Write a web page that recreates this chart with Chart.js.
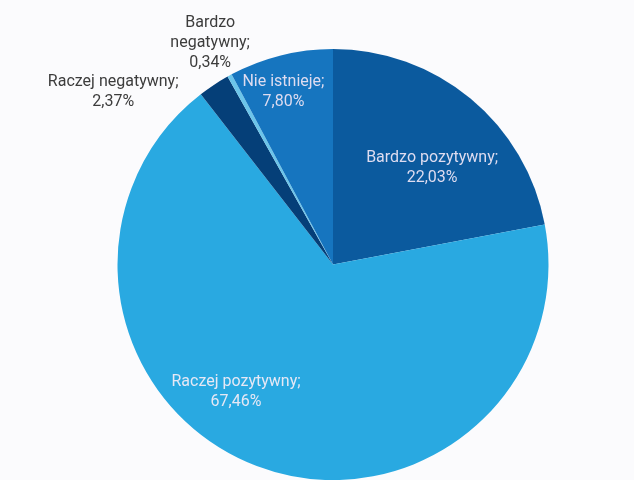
<!DOCTYPE html>
<html>
<head>
<meta charset="utf-8">
<script src="https://cdn.jsdelivr.net/npm/chart.js@4"></script>
<style>
  html, body { margin: 0; padding: 0; background: #fbfbfd; }
  #wrap { width: 634px; height: 480px; }
</style>
</head>
<body>
<div id="wrap"><canvas id="pie"></canvas></div>
<script>
// Ocena - udzial odpowiedzi (%)
const categories = ['Bardzo pozytywny', 'Raczej pozytywny', 'Raczej negatywny', 'Bardzo negatywny', 'Nie istnieje'];
const shares = [22.03, 67.46, 2.37, 0.34, 7.80];
const sliceColors = ['#0b5a9e', '#29a9e1', '#053f78', '#6cc5ea', '#1675bf'];

// where each label sits, as a fraction of the radius from the centre
const labelSpots = [
    { fx: 0.46, fy: -0.45, color: '#dedcf0', wrap: false },
    { fx: -0.45, fy: 0.59, color: '#e6e8f5', wrap: false },
    { fx: -1.02, fy: -0.80, color: '#3c3c3c', wrap: false },
    { fx: -0.57, fy: -1.03, color: '#3c3c3c', wrap: true },
    { fx: -0.23, fy: -0.80, color: '#dedcf0', wrap: false }
];

function pct(v) {
    return v.toFixed(2).replace('.', ',') + '%';
}

const sliceLabels = {
    id: 'sliceLabels',
    afterDatasetsDraw(chart) {
        const ctx = chart.ctx;
        const meta = chart.getDatasetMeta(0);
        ctx.save();
        ctx.font = '16px Roboto';
        ctx.textAlign = 'center';
        ctx.textBaseline = 'middle';
        meta.data.forEach(function (arc, i) {
            const spot = labelSpots[i];
            const r = arc.outerRadius;
            const x = arc.x + spot.fx * r;
            const y = arc.y + spot.fy * r;
            let lines;
            if (spot.wrap) {
                const words = categories[i].split(' ');
                lines = [words[0], words.slice(1).join(' ') + ';', pct(shares[i])];
            } else {
                lines = [categories[i] + ';', pct(shares[i])];
            }
            const lh = 20;
            const top = y - (lines.length - 1) * lh / 2;
            ctx.fillStyle = spot.color;
            lines.forEach(function (line, j) {
                ctx.fillText(line, x, top + j * lh);
            });
        });
        ctx.restore();
    }
};

new Chart(document.getElementById('pie'), {
    type: 'pie',
    data: {
        labels: categories,
        datasets: [{
            data: shares,
            backgroundColor: sliceColors,
            borderWidth: 0
        }]
    },
    options: {
        responsive: true,
        maintainAspectRatio: false,
        animation: false,
        layout: {
            padding: { left: 32, right: 0, top: 49, bottom: -3 }
        },
        plugins: {
            legend: { display: false },
            tooltip: { enabled: false }
        }
    },
    plugins: [sliceLabels]
});
</script>
</body>
</html>
